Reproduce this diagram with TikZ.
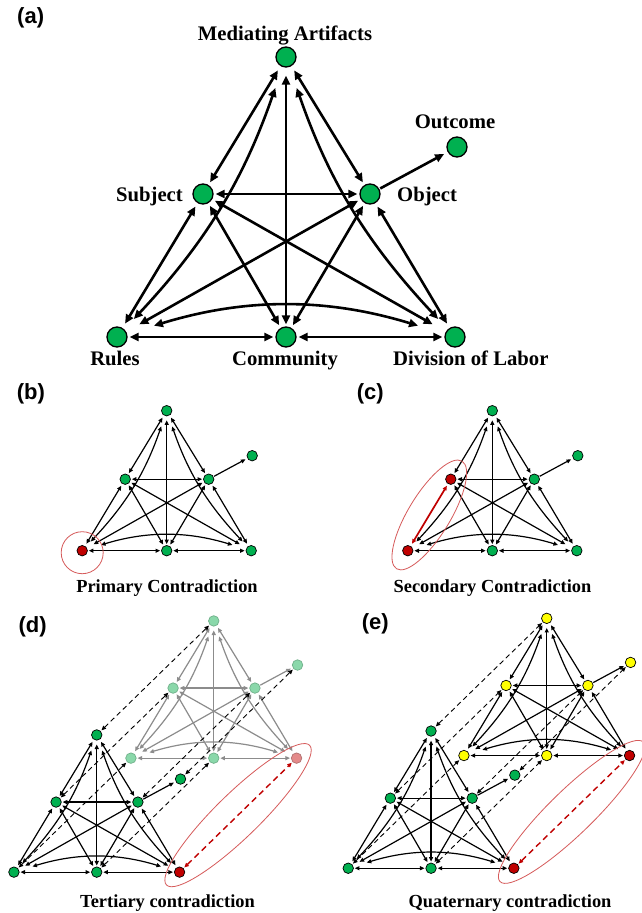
\documentclass[tikz,border=0pt]{standalone}
\usepackage{fontspec}
\setmainfont{Liberation Serif}
\newfontfamily\arialfont{Liberation Sans}
\usetikzlibrary{arrows.meta,shapes.geometric,calc}
\definecolor{ogreen}{HTML}{00B050}
\definecolor{ored}{HTML}{C00000}
\definecolor{oyellow}{HTML}{FFFF00}
\definecolor{fgreen}{HTML}{8AD8AA}
\definecolor{fgreenb}{HTML}{70B08A}
\definecolor{fred}{HTML}{E48A8A}
\definecolor{fredb}{HTML}{B07070}
\definecolor{fgray}{HTML}{8C8C8C}
\definecolor{ellred}{HTML}{D65A5A}
\tikzset{
  bign/.style={circle, draw=black, line width=1.3pt, minimum size=20pt, inner sep=0pt, fill=ogreen},
  smn/.style={circle, draw=black, line width=0.7pt, minimum size=10.5pt, inner sep=0pt, fill=ogreen},
  fadn/.style={smn, fill=fgreen, draw=fgreenb},
  yeln/.style={smn, fill=oyellow},
  nM/.style={}, nS/.style={}, nO/.style={}, nU/.style={}, nR/.style={}, nC/.style={}, nD/.style={},
  eSR/.style={},
  bige/.style={draw=black, line width=2.6pt, <->},
  sme/.style={draw=black, line width=1.2pt, <->},
  fadee/.style={draw=fgray, line width=1.2pt, <->},
  dashe/.style={draw=black, line width=0.9pt, dash pattern=on 5pt off 3.5pt, <->, shorten <=1pt, shorten >=1pt},
  reddash/.style={draw=ored, line width=1.4pt, dash pattern=on 6pt off 4pt, <->, shorten <=1pt, shorten >=1pt},
  ellnode/.style={ellipse, draw=ellred, line width=0.8pt, inner sep=0pt},
  lab/.style={font=\bfseries\fontsize{20.7}{24}\selectfont, inner sep=0pt, anchor=base},
  captext/.style={font=\bfseries\fontsize{18.4}{22}\selectfont, inner sep=0pt, anchor=base},
  plab/.style={font=\arialfont\bfseries\fontsize{22}{26}\selectfont, inner sep=0pt, anchor=base west}
}
\newcommand{\actnodes}[5]{%
  \node[#5,nM] (#1M) at ({#2+#4*286},{#3+#4*57}) {};
  \node[#5,nS] (#1S) at ({#2+#4*203},{#3+#4*194}) {};
  \node[#5,nO] (#1O) at ({#2+#4*370},{#3+#4*194}) {};
  \node[#5,nU] (#1U) at ({#2+#4*457},{#3+#4*147}) {};
  \node[#5,nR] (#1R) at ({#2+#4*117},{#3+#4*337}) {};
  \node[#5,nC] (#1C) at ({#2+#4*286},{#3+#4*337}) {};
  \node[#5,nD] (#1D) at ({#2+#4*455},{#3+#4*337}) {};
}
\newcommand{\actedges}[3]{%
  \pgfmathsetmacro\actf{#2}%
  \draw[#3,shorten <=\actf*5pt,shorten >=\actf*3pt] (#1M) -- (#1S);
  \draw[#3,shorten <=\actf*5pt,shorten >=\actf*3pt] (#1M) -- (#1O);
  \draw[#3,shorten <=\actf*8pt,shorten >=\actf*2pt] (#1M) -- (#1C);
  \draw[#3,shorten <=\actf*22pt,shorten >=\actf*14pt] (#1M) to[bend left=12] (#1R);
  \draw[#3,shorten <=\actf*22pt,shorten >=\actf*14pt] (#1M) to[bend right=12] (#1D);
  \draw[#3,shorten <=\actf*2pt,shorten >=\actf*2pt] (#1S) -- (#1O);
  \draw[#3,eSR,shorten <=\actf*4pt,shorten >=\actf*5pt] (#1S) -- (#1R);
  \draw[#3,shorten <=\actf*3pt,shorten >=\actf*3pt] (#1S) -- (#1C);
  \draw[#3,shorten <=\actf*3pt,shorten >=\actf*15pt] (#1S) -- (#1D);
  \draw[#3,shorten <=\actf*4pt,shorten >=\actf*5pt] (#1O) -- (#1D);
  \draw[#3,shorten <=\actf*3pt,shorten >=\actf*3pt] (#1O) -- (#1C);
  \draw[#3,shorten <=\actf*3pt,shorten >=\actf*15pt] (#1O) -- (#1R);
  \draw[#3,shorten <=\actf*2pt,shorten >=\actf*2pt] (#1R) -- (#1C);
  \draw[#3,shorten <=\actf*2pt,shorten >=\actf*2pt] (#1C) -- (#1D);
  \draw[#3,shorten <=\actf*28pt,shorten >=\actf*28pt] (#1R) to[bend left=17] (#1D);
  \draw[#3,->,shorten <=\actf*1pt,shorten >=\actf*4pt] (#1O) -- (#1U);
}
\begin{document}
\begin{tikzpicture}[x=1pt,y=-1pt]
\useasboundingbox (0,0) rectangle (641,913);
\fill[white] (0,0) rectangle (641,913);

% ---------- (a)
\begin{scope}
  \tikzset{>={Triangle[length=9pt,width=8pt]}}
  \actnodes{a}{0}{0}{1}{bign}
  \actedges{a}{1}{bige}
\end{scope}
\node[plab] (pa) at (17,23) {(a)};
\node[lab] (tMA) at (285,40) {Mediating Artifacts};
\node[lab] (tOut) at (455,128) {Outcome};
\node[lab, anchor=base east] (tSub) at (183,201) {Subject};
\node[lab, anchor=base west] (tObj) at (397,201) {Object};
\node[lab] (tRul) at (115,365) {Rules};
\node[lab] (tCom) at (285,365) {Community};
\node[lab, anchor=base west] (tDiv) at (393,365) {Division of Labor};

% ---------- (b)
\begin{scope}
  \tikzset{>={Triangle[length=4.6pt,width=4pt]}, nR/.style={fill=ored}}
  \actnodes{b}{23.7}{382.2}{0.5}{smn}
  \actedges{b}{0.5}{sme}
  \node[ellnode, circle, minimum size=42pt] (bE) at ($(bR)+(0,2)$) {};
\end{scope}
\node[plab] (pb) at (16.7,399) {(b)};
\node[captext] (tb) at (167,592) {Primary Contradiction};

% ---------- (c)
\begin{scope}
  \tikzset{>={Triangle[length=4.6pt,width=4pt]}, nR/.style={fill=ored}, nS/.style={fill=ored},
    eSR/.style={draw=ored, line width=1.7pt}}
  \actnodes{c}{349.3}{382.2}{0.5}{smn}
  \actedges{c}{0.5}{sme}
  \node[ellnode, minimum width=126pt, minimum height=42pt, rotate=58.7] (cE) at ($(cS)!0.5!(cR)$) {};
\end{scope}
\node[plab] (pc) at (356.7,399) {(c)};
\node[captext] (tc) at (492.5,592) {Secondary Contradiction};

% ---------- (d)
\begin{scope}
  \tikzset{>={Triangle[length=4.6pt,width=4pt]}}
  \begin{scope}
    \tikzset{nD/.style={fill=fred, draw=fredb}}
    \actnodes{db}{73.6}{593}{0.49}{fadn}
    \actedges{db}{0.49}{fadee}
  \end{scope}
  \begin{scope}
    \tikzset{nD/.style={fill=ored}}
    \actnodes{d}{-43.4}{707}{0.49}{smn}
    \actedges{d}{0.49}{sme}
  \end{scope}
  \foreach \X in {M,S,O,U,R,C} {\draw[dashe] (d\X) -- (db\X);}
  \draw[reddash] (dD) -- (dbD);
  \node[ellnode, minimum width=200pt, minimum height=44pt, rotate=44.3] (dE) at ($(dD)!0.5!(dbD)$) {};
\end{scope}
\node[plab] (pd) at (18.3,632) {(d)};
\node[captext] (td) at (167.5,907) {Tertiary contradiction};

% ---------- (e)
\begin{scope}
  \tikzset{>={Triangle[length=4.6pt,width=4pt]}}
  \begin{scope}
    \tikzset{nD/.style={fill=ored}}
    \actnodes{eb}{406.6}{590.4}{0.49}{yeln}
    \actedges{eb}{0.49}{sme}
  \end{scope}
  \begin{scope}
    \tikzset{nD/.style={fill=ored}}
    \actnodes{e}{290.9}{703.1}{0.49}{smn}
    \actedges{e}{0.49}{sme}
  \end{scope}
  \foreach \X in {M,S,O,U,R,C} {\draw[dashe] (e\X) -- (eb\X);}
  \draw[reddash] (eD) -- (ebD);
  \node[ellnode, minimum width=200pt, minimum height=44pt, rotate=44.2] (eE) at ($(eD)!0.5!(ebD)$) {};
\end{scope}
\node[plab] (pe) at (361.7,629) {(e)};
\node[captext] (te) at (510,907) {Quaternary contradiction};
\end{tikzpicture}
\end{document}
